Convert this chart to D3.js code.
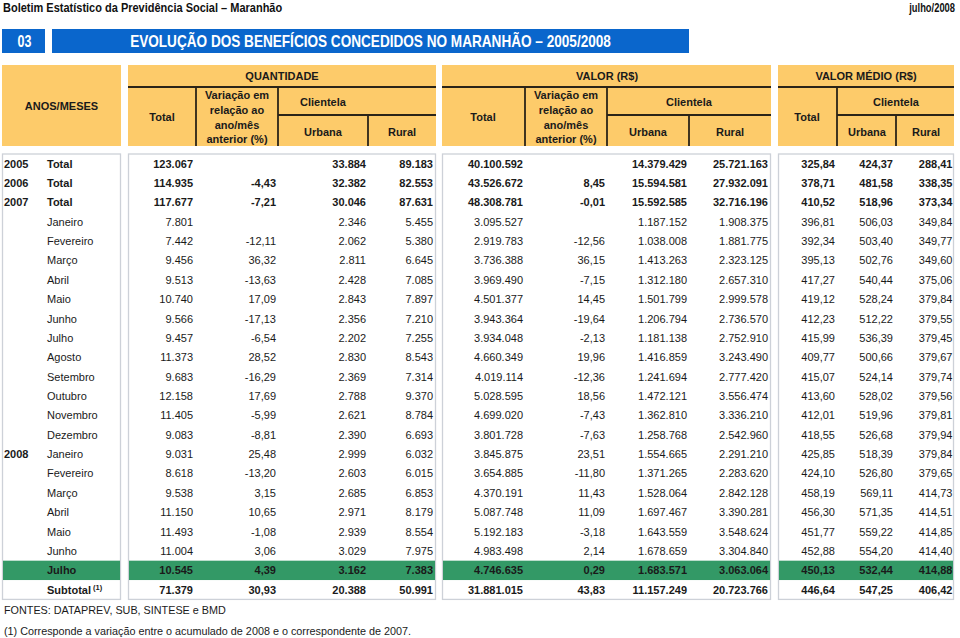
<!DOCTYPE html>
<html>
<head>
<meta charset="utf-8">
<script src="https://cdn.jsdelivr.net/npm/d3@7/dist/d3.min.js"></script>
<style>
  html, body { margin: 0; padding: 0; background: #fff; }
  svg { display: block; }
  text { font-family: "Liberation Sans", Arial, Helvetica, sans-serif; fill: #1a1a1a; }
  .narrow { font-family: "Liberation Sans Narrow", "Arial Narrow", "Liberation Sans", sans-serif; }
</style>
</head>
<body>
<svg id="chart" width="960" height="638"></svg>
<script>
// ---------------- DATA ----------------
const rowYears  = ["2005","2006","2007","","","","","","","","","","","","","2008","","","","","","",""];
const rowLabels = ["Total","Total","Total","Janeiro","Fevereiro","Março","Abril","Maio","Junho","Julho","Agosto","Setembro","Outubro","Novembro","Dezembro","Janeiro","Fevereiro","Março","Abril","Maio","Junho","Julho","Subtotal"];

const qtdTotal = [123067,114935,117677,7801,7442,9456,9513,10740,9566,9457,11373,9683,12158,11405,9083,9031,8618,9538,11150,11493,11004,10545,71379];
const qtdVar   = [null,-4.43,-7.21,null,-12.11,36.32,-13.63,17.09,-17.13,-6.54,28.52,-16.29,17.69,-5.99,-8.81,25.48,-13.20,3.15,10.65,-1.08,3.06,4.39,30.93];
const qtdUrb   = [33884,32382,30046,2346,2062,2811,2428,2843,2356,2202,2830,2369,2788,2621,2390,2999,2603,2685,2971,2939,3029,3162,20388];
const qtdRur   = [89183,82553,87631,5455,5380,6645,7085,7897,7210,7255,8543,7314,9370,8784,6693,6032,6015,6853,8179,8554,7975,7383,50991];

const valTotal = [40100592,43526672,48308781,3095527,2919783,3736388,3969490,4501377,3943364,3934048,4660349,4019114,5028595,4699020,3801728,3845875,3654885,4370191,5087748,5192183,4983498,4746635,31881015];
const valVar   = [null,8.45,-0.01,null,-12.56,36.15,-7.15,14.45,-19.64,-2.13,19.96,-12.36,18.56,-7.43,-7.63,23.51,-11.80,11.43,11.09,-3.18,2.14,0.29,43.83];
const valUrb   = [14379429,15594581,15592585,1187152,1038008,1413263,1312180,1501799,1206794,1181138,1416859,1241694,1472121,1362810,1258768,1554665,1371265,1528064,1697467,1643559,1678659,1683571,11157249];
const valRur   = [25721163,27932091,32716196,1908375,1881775,2323125,2657310,2999578,2736570,2752910,3243490,2777420,3556474,3336210,2542960,2291210,2283620,2842128,3390281,3548624,3304840,3063064,20723766];

const medTotal = [325.84,378.71,410.52,396.81,392.34,395.13,417.27,419.12,412.23,415.99,409.77,415.07,413.60,412.01,418.55,425.85,424.10,458.19,456.30,451.77,452.88,450.13,446.64];
const medUrb   = [424.37,481.58,518.96,506.03,503.40,502.76,540.44,528.24,512.22,536.39,500.66,524.14,528.02,519.96,526.68,518.39,526.80,569.11,571.35,559.22,554.20,532.44,547.25];
const medRur   = [288.41,338.35,373.34,349.84,349.77,349.60,375.06,379.84,379.55,379.45,379.67,379.74,379.56,379.81,379.94,379.84,379.65,414.73,414.51,414.85,414.40,414.88,406.42];

const pageHeaderLeft = "Boletim Estatístico da Previdência Social – Maranhão";
const pageHeaderRight = "julho/2008";
const tableNumber = "03";
const tableTitle = "EVOLUÇÃO DOS BENEFÍCIOS CONCEDIDOS NO MARANHÃO – 2005/2008";
const groupTitles = ["QUANTIDADE", "VALOR (R$)", "VALOR MÉDIO (R$)"];
const sourceNote = "FONTES: DATAPREV, SUB, SINTESE e BMD";
const footNote = "(1) Corresponde a variação entre o acumulado de 2008 e o correspondente de 2007.";
const highlightRow = 21;

// ---------------- FORMAT ----------------
const loc = d3.formatLocale({decimal: ",", thousands: ".", grouping: [3], currency: ["R$ ", ""], minus: "-"});
const fInt = loc.format(",d");
const fDec = loc.format(",.2f");

// ---------------- LAYOUT ----------------
const svg = d3.select("#chart");
const ORANGE = "#fdcb6a", BLUE = "#0a66cc", GREEN = "#339966", LINE = "#2b2418", PANEL_BORDER = "#cdd1d8";

// condensed text helper (horizontal compression via transform)
function condensed(parent, txt, x, yPos, size, sx, anchor, color) {
  return parent.append("g").attr("transform", `translate(${x},${yPos}) scale(${sx},1)`)
    .append("text").attr("class","narrow").attr("x",0).attr("y",0)
    .attr("text-anchor", anchor).attr("font-size", size).attr("font-weight","bold")
    .style("fill", color).text(txt);
}

// page header
condensed(svg, pageHeaderLeft, 3, 12, 12.5, 0.88, "start", "#111");
condensed(svg, pageHeaderRight, 955, 12, 12.5, 0.75, "end", "#111");

// title boxes
svg.append("rect").attr("x",2).attr("y",29).attr("width",43).attr("height",24).attr("fill",BLUE);
svg.append("rect").attr("x",52).attr("y",29).attr("width",637).attr("height",24).attr("fill",BLUE);
condensed(svg, tableNumber, 24.5, 47, 16, 0.78, "middle", "#fff");
condensed(svg, tableTitle, 370.5, 47, 16, 0.85, "middle", "#fff");

// panels
const panels = [
  {x0: 2, x1: 121},
  {x0: 128, x1: 436},
  {x0: 442, x1: 771},
  {x0: 778, x1: 954}
];
const hTop = 65, hBot = 146, hLine1 = 87, hLine2 = 115;
const bTop = 154, bBot = 599.4;

const g = svg.append("g");
// header panels
g.selectAll("rect.hp").data(panels).join("rect").attr("class","hp")
  .attr("x", d => d.x0).attr("y", hTop).attr("width", d => d.x1 - d.x0).attr("height", hBot - hTop)
  .attr("fill", ORANGE);

// header lines
const hLines = [
  [128,hLine1,436,hLine1],[278,hLine2,436,hLine2],[196,hLine1,196,hBot],[278,hLine1,278,hBot],[368,hLine2,368,hBot],
  [442,hLine1,771,hLine1],[607,hLine2,771,hLine2],[525,hLine1,525,hBot],[607,hLine1,607,hBot],[689,hLine2,689,hBot],
  [778,hLine1,954,hLine1],[837,hLine2,954,hLine2],[837,hLine1,837,hBot],[896,hLine2,896,hBot]
];
g.selectAll("line.hl").data(hLines).join("line").attr("class","hl")
  .attr("x1", d => d[0]).attr("y1", d => d[1]).attr("x2", d => d[2]).attr("y2", d => d[3])
  .attr("stroke", LINE).attr("stroke-width", 1.8);

// header texts
const varLines = ["Variação em","relação ao","ano/mês","anterior (%)"];
const hTexts = [
  {t:"ANOS/MESES", x:61.5, y:106},
  {t:groupTitles[0], x:282, y:76},
  {t:"Total", x:162, y:117},
  {t:"Clientela", x:323, y:102},
  {t:"Urbana", x:323, y:132},
  {t:"Rural", x:402, y:132},
  {t:groupTitles[1], x:607, y:76},
  {t:"Total", x:483, y:117},
  {t:"Clientela", x:689, y:102},
  {t:"Urbana", x:648, y:132},
  {t:"Rural", x:730, y:132},
  {t:groupTitles[2], x:866, y:76},
  {t:"Total", x:807, y:117},
  {t:"Clientela", x:896, y:102},
  {t:"Urbana", x:867, y:132},
  {t:"Rural", x:926, y:132}
];
[237, 566].forEach(cx => varLines.forEach((l, i) => hTexts.push({t:l, x:cx, y:95 + i*14.8})));
g.selectAll("text.ht").data(hTexts).join("text").attr("class","ht")
  .attr("x", d => d.x).attr("y", d => d.y).attr("dy","0.36em").attr("text-anchor","middle")
  .attr("font-size",11).attr("font-weight","bold").text(d => d.t);

// body
const y = d3.scaleBand().domain(d3.range(rowLabels.length)).range([bTop, bBot]).padding(0);

g.selectAll("rect.bp").data(panels).join("rect").attr("class","bp")
  .attr("x", d => d.x0 + 0.5).attr("y", bTop).attr("width", d => d.x1 - d.x0 - 1).attr("height", bBot - bTop)
  .attr("fill","#fff").attr("stroke", PANEL_BORDER).attr("stroke-width",1.3);

// highlight row
g.selectAll("rect.hi").data(panels).join("rect").attr("class","hi")
  .attr("x", d => d.x0 + 1).attr("y", y(highlightRow)).attr("width", d => d.x1 - d.x0 - 2).attr("height", y.bandwidth())
  .attr("fill", GREEN);

const isBold = i => rowLabels[i] === "Total" || rowLabels[i] === "Subtotal" || i === highlightRow;

// year labels
g.selectAll("text.yr").data(rowYears).join("text").attr("class","yr")
  .attr("x",4).attr("y",(d,i) => y(i) + y.bandwidth()/2).attr("dy","0.36em")
  .attr("font-size",11).attr("font-weight","bold").text(d => d);

// row labels
const lbl = g.selectAll("text.lb").data(rowLabels).join("text").attr("class","lb")
  .attr("x",47).attr("y",(d,i) => y(i) + y.bandwidth()/2).attr("dy","0.36em")
  .attr("font-size",11).attr("font-weight",(d,i) => isBold(i) ? "bold" : "normal")
  .text(d => d);
lbl.filter(d => d === "Subtotal").append("tspan").attr("dy","-0.45em").attr("dx","2").attr("font-size",7.5).text("(1)");

// numeric columns
const columns = [
  {vals: qtdTotal, x: 193, f: fInt},
  {vals: qtdVar,   x: 276, f: fDec},
  {vals: qtdUrb,   x: 366, f: fInt},
  {vals: qtdRur,   x: 433, f: fInt},
  {vals: valTotal, x: 523, f: fInt},
  {vals: valVar,   x: 605, f: fDec},
  {vals: valUrb,   x: 687, f: fInt},
  {vals: valRur,   x: 768, f: fInt},
  {vals: medTotal, x: 835, f: fDec},
  {vals: medUrb,   x: 893, f: fDec},
  {vals: medRur,   x: 952.5, f: fDec}
];
columns.forEach((c, ci) => {
  g.selectAll("text.c" + ci).data(c.vals).join("text").attr("class","c" + ci)
    .attr("x", c.x).attr("y", (d,i) => y(i) + y.bandwidth()/2).attr("dy","0.36em")
    .attr("text-anchor","end").attr("font-size",11)
    .attr("font-weight", (d,i) => isBold(i) ? "bold" : "normal")
    .text(d => d == null ? "" : c.f(d));
});

// notes
svg.append("text").attr("x",4).attr("y",610).attr("dy","0.36em").attr("font-size",10.8).text(sourceNote);
svg.append("text").attr("x",4).attr("y",631).attr("dy","0.36em").attr("font-size",10.8).text(footNote);
</script>
</body>
</html>
